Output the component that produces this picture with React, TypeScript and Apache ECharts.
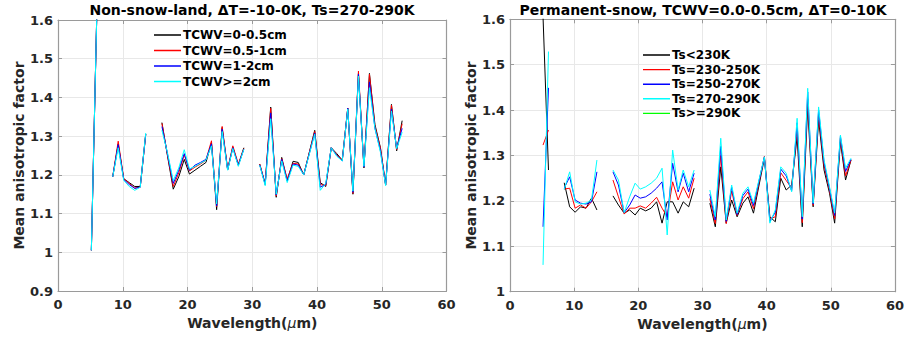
import React, { useEffect, useRef } from "react";
import * as echarts from "echarts";

// Wavelength grid (µm); null marks a break in the lines
const wavelength: (number | null)[] = [
  5.15, 6.0, null,
  8.45, 9.3, 10.15, 11.0, 11.85, 12.7, 13.55, null,
  16.05, 16.9, 17.8, 18.65, 19.5, 20.3, 21.15, 22.0, 22.85, 23.7, 24.5, 25.35, 26.2, 27.0, 27.85, 28.7, null,
  31.15, 32.0, 32.85, 33.7, 34.55, 35.4, 36.3, 37.1, 37.95, 39.65, 40.5, 41.35, 42.2, 43.05, 43.9, 44.75,
  45.55, 46.4, 47.25, 48.1, 48.95, 49.8, 50.6, 51.5, 52.3, 53.15,
];

// Left panel: Non-snow-land
const leftNames = ["TCWV=0-0.5cm", "TCWV=0.5-1cm", "TCWV=1-2cm", "TCWV>=2cm"];
const leftTcwv0: (number | null)[] = [
  1.005, 1.62, null,
  1.195, 1.280, 1.190, 1.180, 1.170, 1.170, 1.305, null,
  1.335, 1.250, 1.163, 1.195, 1.240, 1.202, 1.212, 1.222, 1.232, 1.283, 1.110, 1.322, 1.213, 1.272, 1.225, 1.270, null,
  1.228, 1.175, 1.375, 1.142, 1.245, 1.185, 1.235, 1.232, 1.200, 1.315, 1.180, 1.170, 1.270, 1.255, 1.238, 1.372,
  1.150, 1.462, 1.218, 1.462, 1.330, 1.270, 1.174, 1.382, 1.262, 1.340,
];
const leftTcwv1: (number | null)[] = [
  1.005, 1.62, null,
  1.195, 1.287, 1.190, 1.178, 1.166, 1.168, 1.305, null,
  1.333, 1.252, 1.170, 1.205, 1.252, 1.210, 1.220, 1.228, 1.238, 1.288, 1.118, 1.325, 1.215, 1.275, 1.228, 1.268, null,
  1.228, 1.178, 1.372, 1.145, 1.242, 1.190, 1.230, 1.228, 1.200, 1.312, 1.175, 1.172, 1.270, 1.252, 1.238, 1.372,
  1.152, 1.468, 1.220, 1.460, 1.325, 1.268, 1.174, 1.380, 1.265, 1.332,
];
const leftTcwv2: (number | null)[] = [
  1.005, 1.62, null,
  1.195, 1.278, 1.188, 1.175, 1.165, 1.168, 1.305, null,
  1.325, 1.255, 1.178, 1.212, 1.255, 1.212, 1.225, 1.232, 1.240, 1.280, 1.120, 1.318, 1.213, 1.270, 1.225, 1.266, null,
  1.226, 1.176, 1.360, 1.148, 1.240, 1.184, 1.228, 1.225, 1.200, 1.308, 1.168, 1.175, 1.270, 1.250, 1.236, 1.372,
  1.155, 1.460, 1.220, 1.440, 1.320, 1.262, 1.174, 1.370, 1.268, 1.320,
];
const leftTcwv3: (number | null)[] = [
  1.005, 1.62, null,
  1.195, 1.270, 1.186, 1.170, 1.160, 1.168, 1.308, null,
  1.315, 1.258, 1.185, 1.218, 1.265, 1.215, 1.222, 1.230, 1.238, 1.275, 1.125, 1.312, 1.212, 1.268, 1.222, 1.266, null,
  1.225, 1.172, 1.345, 1.150, 1.236, 1.180, 1.225, 1.222, 1.200, 1.305, 1.160, 1.178, 1.270, 1.248, 1.236, 1.370,
  1.158, 1.455, 1.222, 1.425, 1.320, 1.258, 1.172, 1.365, 1.268, 1.310,
];

// Right panel: Permanent-snow
const rightNames = ["Ts<230K", "Ts=230-250K", "Ts=250-270K", "Ts=270-290K", "Ts>=290K"];
const rightTs0: (number | null)[] = [
  1.605, 1.268, null,
  1.240, 1.187, 1.175, 1.187, 1.184, 1.206, 1.180, null,
  1.211, 1.191, 1.173, 1.180, 1.169, 1.184, 1.178, 1.184, 1.198, 1.151, 1.198, 1.198, 1.173, 1.198, 1.187, 1.228, null,
  1.195, 1.143, 1.275, 1.151, 1.202, 1.165, 1.195, 1.209, 1.173, 1.294, 1.165, 1.154, 1.250, 1.224, 1.235, 1.341,
  1.143, 1.407, 1.187, 1.378, 1.268, 1.217, 1.151, 1.330, 1.246, 1.290,
];
const rightTs1: (number | null)[] = [
  1.323, 1.356, null,
  1.226, 1.228, 1.184, 1.191, 1.184, 1.198, 1.220, null,
  1.246, 1.209, 1.171, 1.184, 1.184, 1.189, 1.184, 1.195, 1.208, 1.184, 1.165, 1.242, 1.202, 1.231, 1.206, 1.250, null,
  1.205, 1.150, 1.300, 1.150, 1.222, 1.168, 1.205, 1.220, 1.183, 1.298, 1.160, 1.165, 1.262, 1.245, 1.228, 1.360,
  1.152, 1.425, 1.190, 1.392, 1.278, 1.224, 1.160, 1.338, 1.255, 1.290,
];
const rightTs2: (number | null)[] = [
  1.143, 1.449, null,
  1.228, 1.253, 1.202, 1.195, 1.193, 1.198, 1.264, null,
  1.264, 1.235, 1.174, 1.191, 1.213, 1.206, 1.209, 1.217, 1.228, 1.242, 1.158, 1.283, 1.220, 1.261, 1.220, 1.261, null,
  1.215, 1.158, 1.320, 1.155, 1.230, 1.170, 1.212, 1.226, 1.190, 1.297, 1.155, 1.175, 1.270, 1.255, 1.222, 1.372,
  1.160, 1.440, 1.193, 1.400, 1.285, 1.228, 1.168, 1.342, 1.265, 1.292,
];
const rightTs3: (number | null)[] = [
  1.059, 1.529, null,
  1.225, 1.264, 1.198, 1.193, 1.195, 1.202, 1.290, null,
  1.268, 1.246, 1.174, 1.209, 1.239, 1.226, 1.231, 1.239, 1.250, 1.272, 1.125, 1.312, 1.224, 1.268, 1.231, 1.268, null,
  1.224, 1.165, 1.338, 1.158, 1.235, 1.173, 1.217, 1.231, 1.195, 1.297, 1.151, 1.180, 1.275, 1.261, 1.220, 1.382,
  1.165, 1.448, 1.195, 1.407, 1.290, 1.231, 1.173, 1.345, 1.272, 1.294,
];
const rightTs4: (number | null)[] = []; // no data for Ts>=290K

const xTicks = { min: 0, max: 60, interval: 10 };
const leftY = { min: 0.9, max: 1.6, interval: 0.1 };
const rightY = { min: 1.0, max: 1.6, interval: 0.1 };

const FONT = '"DejaVu Sans", "Noto Sans", sans-serif';
const AXIS_GRAY = "#9a9a9a";
const LABEL_COLOR = "#262626";
// thin horizontal bar centred in a 27x14 box (tiny corner marks fix the box size)
const LINE_ICON =
  "path://M0,0L0.01,0L0,0.01Z M27,14L26.99,14L27,13.99Z M0,6.3L27,6.3L27,7.7L0,7.7Z";

function toData(vals: (number | null)[]) {
  return wavelength.map((w, i) => {
    const v = vals[i];
    if (w == null || v == null || v === undefined) return ["-", "-"];
    return [w, v];
  });
}

function mainX(gridIndex: number) {
  return {
    type: "value",
    gridIndex,
    position: "bottom",
    ...xTicks,
    name: "Wavelength({mu|μ}m)",
    nameLocation: "middle",
    nameGap: 24,
    nameTextStyle: {
      fontFamily: FONT,
      fontSize: 14,
      fontWeight: "bold",
      color: LABEL_COLOR,
      rich: {
        mu: { fontFamily: FONT, fontSize: 14, fontStyle: "italic", fontWeight: "normal", color: LABEL_COLOR },
      },
    },
    axisLine: { show: true, onZero: false, lineStyle: { color: AXIS_GRAY, width: 1.2 } },
    axisTick: { show: true, inside: true, length: 4, lineStyle: { color: AXIS_GRAY } },
    axisLabel: { show: true, margin: 7, fontFamily: FONT, fontSize: 13, fontWeight: "bold", color: LABEL_COLOR },
    splitLine: { show: true, lineStyle: { color: "#e8e8e8", width: 1 } },
  };
}
function topX(gridIndex: number) {
  return {
    type: "value",
    gridIndex,
    position: "top",
    ...xTicks,
    axisLine: { show: true, onZero: false, lineStyle: { color: AXIS_GRAY, width: 1.2 } },
    axisTick: { show: true, inside: true, length: 4, lineStyle: { color: AXIS_GRAY } },
    axisLabel: { show: false },
    splitLine: { show: false },
  };
}
function mainY(gridIndex: number, range: any) {
  return {
    type: "value",
    gridIndex,
    position: "left",
    ...range,
    name: "Mean anisotropic factor",
    nameLocation: "middle",
    nameGap: 31,
    nameTextStyle: { fontFamily: FONT, fontSize: 14, fontWeight: "bold", color: LABEL_COLOR },
    axisLine: { show: true, onZero: false, lineStyle: { color: AXIS_GRAY, width: 1.2 } },
    axisTick: { show: true, inside: true, length: 4, lineStyle: { color: AXIS_GRAY } },
    axisLabel: {
      show: true,
      margin: 5,
      fontFamily: FONT,
      fontSize: 13,
      fontWeight: "bold",
      color: LABEL_COLOR,
      formatter: (v: number) => String(Math.round(v * 10) / 10),
    },
    splitLine: { show: true, lineStyle: { color: "#e8e8e8", width: 1 } },
  };
}
function rightYAxis(gridIndex: number, range: any) {
  return {
    type: "value",
    gridIndex,
    position: "right",
    ...range,
    axisLine: { show: true, onZero: false, lineStyle: { color: AXIS_GRAY, width: 1.2 } },
    axisTick: { show: true, inside: true, length: 4, lineStyle: { color: AXIS_GRAY } },
    axisLabel: { show: false },
    splitLine: { show: false },
  };
}

function lineSeries(name: string, vals: (number | null)[], color: string, xi: number, yi: number) {
  return {
    type: "line",
    name,
    xAxisIndex: xi,
    yAxisIndex: yi,
    data: toData(vals),
    symbol: "none",
    showSymbol: false,
    connectNulls: false,
    clip: true,
    color,
    itemStyle: { color },
    lineStyle: { color, width: 1 },
    emphasis: { disabled: true },
  };
}

export default function App() {
  const ref = useRef<HTMLDivElement>(null);
  useEffect(() => {
    if (!ref.current) return;
    const chart = echarts.init(ref.current, undefined, { renderer: "svg" });
    const leftColors = ["#000000", "#ff0000", "#0000ff", "#00ffff"];
    const rightColors = ["#000000", "#ff0000", "#0000ff", "#00ffff", "#00ff00"];
    const leftVals = [leftTcwv0, leftTcwv1, leftTcwv2, leftTcwv3];
    const rightVals = [rightTs0, rightTs1, rightTs2, rightTs3, rightTs4];
    const legendText = { fontFamily: FONT, fontSize: 12, fontWeight: "bold", color: "#000", padding: [0, 0, 0, -3] };
    const legendItems = (names: string[], colors: string[]) =>
      names.map((n, i) => ({ name: n, itemStyle: { color: colors[i], borderWidth: 0 } }));
    const option: any = {
      animation: false,
      backgroundColor: "#ffffff",
      textStyle: { fontFamily: FONT },
      grid: [
        { left: 58, top: 20, width: 388.5, height: 271, containLabel: false },
        { left: 510, top: 19.3, width: 385.7, height: 272.4, containLabel: false },
      ],
      xAxis: [mainX(0), topX(0), mainX(1), topX(1)],
      yAxis: [mainY(0, leftY), rightYAxis(0, leftY), mainY(1, rightY), rightYAxis(1, rightY)],
      legend: [
        {
          data: legendItems(leftNames, leftColors),
          orient: "vertical",
          left: 154,
          top: 28,
          icon: LINE_ICON,
          itemWidth: 27,
          itemHeight: 14,
          itemGap: 1.5,
          padding: 0,
          selectedMode: false,
          itemStyle: { borderWidth: 0 },
          textStyle: legendText,
        },
        {
          data: legendItems(rightNames, rightColors),
          orient: "vertical",
          left: 643,
          top: 48,
          icon: LINE_ICON,
          itemWidth: 27,
          itemHeight: 14,
          itemGap: 0.6,
          padding: 0,
          selectedMode: false,
          itemStyle: { borderWidth: 0 },
          textStyle: legendText,
        },
      ],
      graphic: [
        {
          type: "text",
          x: 252,
          y: 9.5,
          style: {
            text: "Non-snow-land, ΔT=-10-0K, Ts=270-290K",
            align: "center",
            verticalAlign: "middle",
            font: `bold 14px ${FONT}`,
            fill: "#000",
          },
        },
        {
          type: "text",
          x: 703,
          y: 9.5,
          style: {
            text: "Permanent-snow, TCWV=0.0-0.5cm, ΔT=0-10K",
            align: "center",
            verticalAlign: "middle",
            font: `bold 14px ${FONT}`,
            fill: "#000",
          },
        },
      ],
      series: [
        ...leftNames.map((n, i) => lineSeries(n, leftVals[i], leftColors[i], 0, 0)),
        ...rightNames.map((n, i) => lineSeries(n, rightVals[i], rightColors[i], 2, 2)),
      ],
    };
    chart.setOption(option);
    return () => chart.dispose();
  }, []);
  return (
    <div
      ref={ref}
      style={{ position: "absolute", left: 0, top: 0, width: 907, height: 337, background: "#fff" }}
    />
  );
}
